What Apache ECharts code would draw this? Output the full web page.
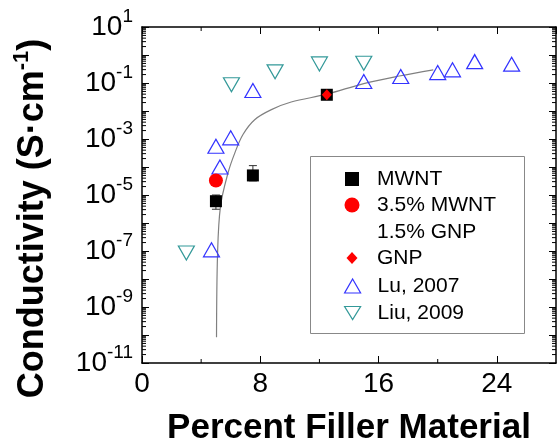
<!DOCTYPE html>
<html>
<head>
<meta charset="utf-8">
<script src="https://cdn.jsdelivr.net/npm/echarts@6/dist/echarts.min.js"></script>
<style>
html,body{margin:0;padding:0;background:#fff}
#chart{width:557px;height:445px}
</style>
</head>
<body>
<div id="chart"></div>
<script>
var FONT = '"Liberation Sans", Arial, sans-serif';

// percent filler material (x) vs conductivity in S/cm (y)
var mwntX = [5.0, 7.5, 12.5];
var mwntY = [6e-6, 5e-5, 0.038];
var errX = [5.0, 7.5];
var errLow = [3.1e-6, 3.2e-5];
var errHigh = [1.0e-5, 1.12e-4];
var hybridX = [5.0];
var hybridY = [3.3e-5];
var gnpX = [12.5];
var gnpY = [0.038];
var luX = [4.7, 5.0, 5.27, 6.0, 7.5, 15.0, 17.5, 20.0, 21.0, 22.5, 25.0];
var luY = [1.1e-7, 5.5e-4, 1.0e-4, 1.1e-3, 0.054, 0.113, 0.17, 0.235, 0.295, 0.58, 0.47];
var liuX = [3.0, 6.05, 9.0, 12.0, 15.0];
var liuY = [8.5e-8, 0.087, 0.25, 0.48, 0.51];
// fit line
var fitX = [5.04, 5.11, 5.31, 5.82, 6.28, 6.83, 7.62, 8.75, 10.09, 12.5, 15.0, 17.4, 19.7];
var fitY = [8.3e-11, 7.8e-8, 4.0e-6, 6.2e-5, 3.2e-4, 1.45e-3, 4.9e-3, 0.0112, 0.0209, 0.0398, 0.0955, 0.178, 0.295];
// axis ticks
var xMinor = [4, 12, 20];
var decades = [-11, -10, -9, -8, -7, -6, -5, -4, -3, -2, -1, 0];
var logMinor = [2, 3, 4, 5, 6, 7, 8, 9];

function pairs(xs, ys) {
  var out = [];
  for (var i = 0; i < xs.length; i++) out.push([xs[i], ys[i]]);
  return out;
}

var yMinorData = [];
for (var d = 0; d < decades.length; d++) {
  for (var m = 0; m < logMinor.length; m++) {
    yMinorData.push([1, logMinor[m] * Math.pow(10, decades[d])]);
  }
}
var xMinorData = [];
for (var k = 0; k < xMinor.length; k++) xMinorData.push([xMinor[k], 1]);

var errData = [];
for (var e = 0; e < errX.length; e++) errData.push([errX[e], errLow[e], errHigh[e]]);

var blue = '#3333ff';
var teal = '#339999';
var downTri = 'path://M0,0L16,0L8,13Z';

var chart = echarts.init(document.getElementById('chart'));

var frameLine = { show: true, onZero: false, lineStyle: { color: '#000', width: 1.5 } };
var tickStyle = { show: true, inside: true, length: 7, lineStyle: { color: '#000', width: 1 } };

function legendItem(name, top, w, h, icon, style, lineHeight, fmt) {
  return {
    left: 352 - w / 2,
    top: top,
    padding: 0,
    orient: 'vertical',
    selectedMode: false,
    itemWidth: w,
    itemHeight: h,
    formatter: fmt,
    data: [{ name: name, icon: icon, itemStyle: style }],
    textStyle: {
      fontFamily: FONT,
      fontSize: 21,
      color: '#000',
      lineHeight: lineHeight || 22,
      padding: [0, 0, 0, 20 - w / 2]
    }
  };
}

var option = {
  animation: false,
  grid: { left: 142, right: 1, top: 27, bottom: 82, outerBoundsMode: 'none' },
  graphic: [{
    type: 'rect',
    shape: { x: 310.5, y: 156.5, width: 214, height: 177 },
    style: { fill: 'none', stroke: '#888', lineWidth: 1 },
    silent: true
  }],
  legend: [
    legendItem('MWNT', 168, 14, 14, 'rect', { color: '#000' }),
    // blank first line keeps the marker level with "3.5% MWNT"
    legendItem('3.5% MWNT\n1.5% GNP', 164.5, 15, 15, 'circle', { color: '#ff0000' }, 27,
      function (name) { return ' \n' + name; }),
    legendItem('GNP', 247, 11, 12, 'diamond', { color: '#ff0000' }),
    legendItem('Lu, 2007', 275, 16, 14, 'triangle', { color: 'transparent', borderColor: blue, borderWidth: 1.2 }),
    legendItem('Liu, 2009', 302, 16, 13, downTri, { color: 'transparent', borderColor: teal, borderWidth: 1.2 })
  ],
  xAxis: [{
    type: 'value',
    position: 'bottom',
    min: 0,
    max: 28,
    interval: 8,
    axisLine: frameLine,
    axisTick: tickStyle,
    splitLine: { show: false },
    axisLabel: { fontFamily: FONT, fontSize: 28, color: '#000', margin: 7, showMaxLabel: false },
    name: 'Percent Filler Material',
    nameLocation: 'middle',
    nameGap: 48,
    nameTextStyle: { fontFamily: FONT, fontSize: 35, fontWeight: 'bold', color: '#000' }
  }, {
    type: 'value',
    position: 'top',
    min: 0,
    max: 28,
    interval: 8,
    axisLine: frameLine,
    axisTick: tickStyle,
    splitLine: { show: false },
    axisLabel: { show: false }
  }],
  yAxis: [{
    type: 'log',
    logBase: 10,
    position: 'left',
    min: 1e-11,
    max: 10,
    interval: 1,
    axisLine: frameLine,
    axisTick: tickStyle,
    splitLine: { show: false },
    axisLabel: {
      margin: 9,
      formatter: function (v) {
        var p = Math.round(Math.log(v) / Math.LN10);
        if (p % 2 === 0) return '';
        return '{b|10}{s|' + p + '}';
      },
      rich: {
        b: { fontFamily: FONT, fontSize: 28, color: '#000', lineHeight: 40 },
        s: { fontFamily: FONT, fontSize: 19, color: '#000', lineHeight: 19, verticalAlign: 'top' }
      }
    },
    name: '{t|Conductivity (S·cm}{s|-1}{t|)}',
    nameLocation: 'middle',
    nameRotate: 90,
    nameGap: 87,
    nameTextStyle: {
      padding: [0, 47, 0, 0],
      rich: {
        t: { fontFamily: FONT, fontSize: 36, fontWeight: 'bold', color: '#000', lineHeight: 44 },
        s: { fontFamily: FONT, fontSize: 22, fontWeight: 'bold', color: '#000', lineHeight: 22, verticalAlign: 'top' }
      }
    }
  }, {
    type: 'log',
    logBase: 10,
    position: 'right',
    min: 1e-11,
    max: 10,
    interval: 1,
    axisLine: frameLine,
    axisTick: tickStyle,
    splitLine: { show: false },
    axisLabel: { show: false }
  }],
  series: [{
    // minor decade ticks on left and right frame
    type: 'custom',
    silent: true,
    clip: false,
    encode: { x: 0, y: 1 },
    data: yMinorData,
    renderItem: function (params, api) {
      var cs = params.coordSys;
      var y = api.coord([1, api.value(1)])[1];
      return {
        type: 'group',
        children: [
          { type: 'line', shape: { x1: cs.x, y1: y, x2: cs.x + 4, y2: y }, style: { stroke: '#000', lineWidth: 1 } },
          { type: 'line', shape: { x1: cs.x + cs.width - 4, y1: y, x2: cs.x + cs.width, y2: y }, style: { stroke: '#000', lineWidth: 1 } }
        ]
      };
    }
  }, {
    // minor ticks on bottom and top frame
    type: 'custom',
    silent: true,
    clip: false,
    encode: { x: 0, y: 1 },
    data: xMinorData,
    renderItem: function (params, api) {
      var cs = params.coordSys;
      var x = api.coord([api.value(0), 1])[0];
      return {
        type: 'group',
        children: [
          { type: 'line', shape: { x1: x, y1: cs.y + cs.height, x2: x, y2: cs.y + cs.height - 4 }, style: { stroke: '#000', lineWidth: 1 } },
          { type: 'line', shape: { x1: x, y1: cs.y, x2: x, y2: cs.y + 4 }, style: { stroke: '#000', lineWidth: 1 } }
        ]
      };
    }
  }, {
    name: 'fit',
    type: 'line',
    data: pairs(fitX, fitY),
    showSymbol: false,
    smooth: 0.35,
    lineStyle: { color: '#808080', width: 1.2 },
    silent: true,
    z: 1
  }, {
    name: 'error',
    type: 'custom',
    silent: true,
    encode: { x: 0, y: [1, 2] },
    data: errData,
    renderItem: function (params, api) {
      var x = api.value(0);
      var lo = api.coord([x, api.value(1)]);
      var hi = api.coord([x, api.value(2)]);
      var st = { stroke: '#333', lineWidth: 1 };
      return {
        type: 'group',
        children: [
          { type: 'line', shape: { x1: lo[0], y1: lo[1], x2: hi[0], y2: hi[1] }, style: st },
          { type: 'line', shape: { x1: lo[0] - 4, y1: lo[1], x2: lo[0] + 4, y2: lo[1] }, style: st },
          { type: 'line', shape: { x1: hi[0] - 4, y1: hi[1], x2: hi[0] + 4, y2: hi[1] }, style: st }
        ]
      };
    },
    z: 2
  }, {
    name: 'Liu, 2009',
    type: 'scatter',
    data: pairs(liuX, liuY),
    symbol: downTri,
    symbolSize: [16, 14],
    itemStyle: { color: 'transparent', borderColor: teal, borderWidth: 1.2, opacity: 1 },
    z: 3
  }, {
    name: 'Lu, 2007',
    type: 'scatter',
    data: pairs(luX, luY),
    symbol: 'triangle',
    symbolSize: [16, 14],
    itemStyle: { color: 'transparent', borderColor: blue, borderWidth: 1.2, opacity: 1 },
    z: 3
  }, {
    name: 'MWNT',
    type: 'scatter',
    data: pairs(mwntX, mwntY),
    symbol: 'rect',
    symbolSize: 12,
    itemStyle: { color: '#000', opacity: 1 },
    z: 4
  }, {
    name: '3.5% MWNT\n1.5% GNP',
    type: 'scatter',
    data: pairs(hybridX, hybridY),
    symbol: 'circle',
    symbolSize: 14,
    itemStyle: { color: '#ff0000', opacity: 1 },
    z: 4
  }, {
    name: 'GNP',
    type: 'scatter',
    data: pairs(gnpX, gnpY),
    symbol: 'diamond',
    symbolSize: [10, 11],
    itemStyle: { color: '#ff0000', opacity: 1 },
    z: 5
  }]
};

chart.setOption(option);
</script>
</body>
</html>
